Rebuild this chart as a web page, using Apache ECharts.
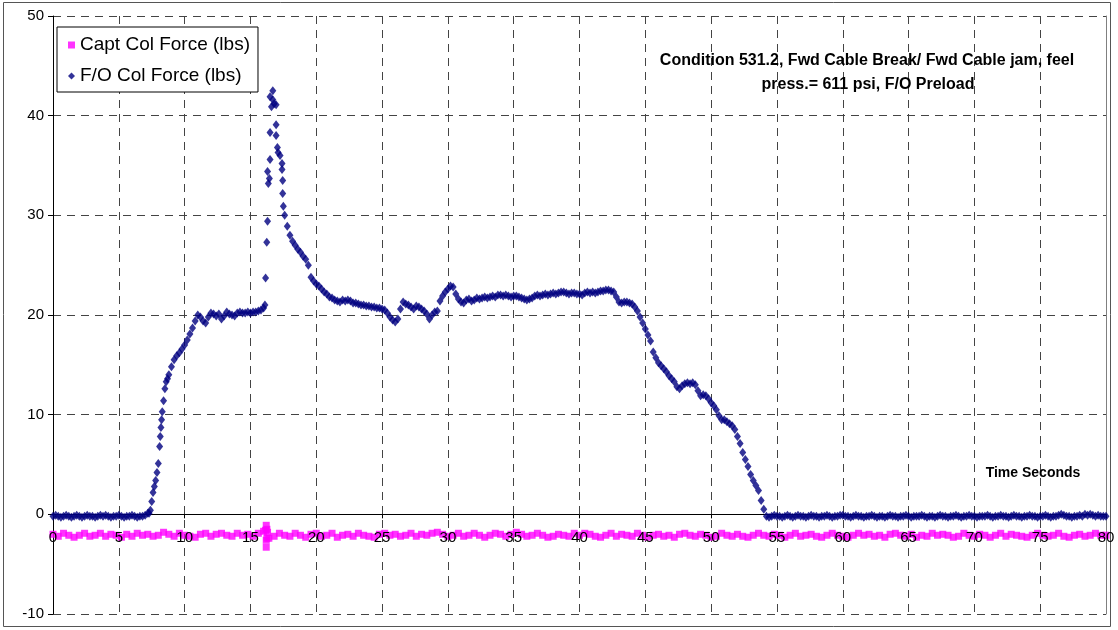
<!DOCTYPE html>
<html>
<head>
<meta charset="utf-8">
<script src="https://cdn.jsdelivr.net/npm/echarts@6/dist/echarts.min.js"></script>
<style>
html,body{margin:0;padding:0;background:#fff;}
#chart{width:1118px;height:630px;}
</style>
</head>
<body>
<div id="chart"></div>
<script>
// ---- Data ----
const seriesNames = ['Capt Col Force (lbs)', 'F/O Col Force (lbs)'];
const annotationLines = ['Condition 531.2, Fwd Cable Break/ Fwd Cable jam, feel', 'press.= 611 psi, F/O Preload'];
const xAxisTitle = 'Time Seconds';
const xMin = 0, xMax = 80, xStep = 5;
const yMin = -10, yMax = 50, yStep = 10;

// F/O column force, sampled every 0.2 s starting at 0 s (10 samples = 2 s per row)
const foStart = 0, foDt = 0.2;
const foValues = [
  -0.2,-0.1,-0.2,-0.3,-0.2,-0.1,-0.2,-0.3,-0.2,-0.1,    // 0
  -0.2,-0.3,-0.2,-0.1,-0.2,-0.2,-0.3,-0.2,-0.1,-0.2,    // 2
  -0.1,-0.2,-0.3,-0.2,-0.2,-0.1,-0.2,-0.3,-0.2,-0.2,    // 4
  -0.1,-0.2,-0.3,-0.2,-0.2,-0.1,0.1,0.4,2.2,3.4,        // 6
  5.1,8.7,11.4,13.3,14.0,14.8,15.5,15.9,16.2,16.6,      // 8
  17.0,17.5,18.1,18.7,19.4,20.0,19.8,19.4,19.2,19.8,    // 10
  20.2,20.1,19.9,20.1,19.6,19.9,20.3,20.1,20.0,19.9,    // 12
  20.2,20.3,20.2,20.2,20.3,20.2,20.3,20.3,20.4,20.5,    // 14
  20.7,null,null,null,null,null,null,null,30.0,28.9,    // 16
  28.0,27.4,27.0,26.6,26.3,25.9,25.6,25.0,23.8,23.4,    // 18
  23.1,22.9,22.6,22.3,22.1,21.8,21.7,21.5,21.4,21.3,    // 20
  21.5,21.4,21.5,21.4,21.2,21.2,21.1,21.0,21.0,20.9,    // 22
  20.9,20.8,20.8,20.7,20.7,20.6,20.5,20.2,19.8,19.5,    // 24
  19.3,19.6,20.6,21.3,21.1,21.0,20.8,20.6,20.9,20.8,    // 26
  20.6,20.4,20.1,19.6,20.0,20.3,20.4,21.4,21.9,22.3,    // 28
  22.6,22.9,22.8,22.1,21.6,21.3,21.2,21.5,21.6,21.4,    // 30
  21.5,21.7,21.6,21.7,21.8,21.7,21.8,21.9,21.8,22.0,    // 32
  22.0,21.9,22.0,21.9,21.8,21.9,21.9,21.8,21.7,21.6,    // 34
  21.5,21.6,21.7,21.9,22.0,21.9,22.0,22.1,22.0,22.1,    // 36
  22.2,22.1,22.2,22.3,22.3,22.2,22.1,22.2,22.2,22.1,    // 38
  22.1,22.0,22.2,22.3,22.2,22.3,22.2,22.3,22.4,22.4,    // 40
  22.5,22.5,22.4,22.3,21.8,21.3,21.2,21.3,21.3,21.2,    // 42
  21.1,20.8,20.4,19.8,19.2,18.6,18.0,17.4,16.3,15.7,    // 44
  15.2,14.9,14.6,14.3,13.9,13.6,13.3,12.8,12.6,12.9,    // 46
  13.1,13.2,13.1,13.2,13.0,12.4,11.9,12.0,11.9,11.6,    // 48
  11.2,10.9,10.5,9.9,9.5,9.5,9.3,9.1,8.9,8.5,           // 50
  7.8,7.1,6.2,5.5,4.8,4.0,3.4,2.9,2.4,1.4,              // 52
  0.5,-0.2,-0.3,-0.2,-0.1,-0.2,-0.2,-0.3,-0.2,-0.1,     // 54
  -0.2,-0.3,-0.2,-0.1,-0.2,-0.2,-0.3,-0.2,-0.1,-0.2,    // 56
  -0.2,-0.3,-0.2,-0.2,-0.1,-0.2,-0.3,-0.2,-0.2,-0.1,    // 58
  -0.1,-0.2,-0.2,-0.3,-0.2,-0.1,-0.2,-0.2,-0.3,-0.2,    // 60
  -0.2,-0.1,-0.2,-0.3,-0.2,-0.2,-0.3,-0.2,-0.1,-0.2,    // 62
  -0.2,-0.3,-0.2,-0.2,-0.1,-0.2,-0.3,-0.2,-0.2,-0.2,    // 64
  -0.1,-0.2,-0.3,-0.2,-0.2,-0.3,-0.2,-0.1,-0.2,-0.2,    // 66
  -0.3,-0.2,-0.2,-0.1,-0.2,-0.3,-0.2,-0.2,-0.1,-0.2,    // 68
  -0.2,-0.3,-0.2,-0.2,-0.2,-0.1,-0.2,-0.3,-0.2,-0.2,    // 70
  -0.1,-0.2,-0.2,-0.3,-0.2,-0.1,-0.2,-0.2,-0.3,-0.2,    // 72
  -0.2,-0.1,-0.2,-0.2,-0.3,-0.2,-0.2,-0.1,-0.2,-0.3,    // 74
  -0.2,-0.2,-0.1,0.0,-0.1,-0.2,-0.2,-0.3,-0.2,-0.2,     // 76
  -0.1,-0.2,0.0,-0.1,0.0,-0.1,-0.2,-0.1,-0.2,-0.2,      // 78
  -0.2                                                  // 80
];
// extra F/O samples on the steep rise [time, value]
const foRise = [[7.3,0.1],[7.5,1.3],[7.7,2.8],[7.9,4.2],[8.1,6.8],[8.15,7.8],[8.25,9.5],[8.3,10.3],[8.5,12.6],[8.7,13.6]];
// F/O samples around the peak [time, value]
const foPeak = [
  [16.1,21.0],[16.15,23.7],[16.24,27.3],[16.3,29.4],[16.3,34.4],[16.36,33.2],[16.44,33.7],
  [16.49,35.6],[16.49,38.3],[16.49,41.9],[16.6,40.9],[16.7,42.5],[16.7,41.6],[16.8,41.2],
  [16.95,41.1],[16.95,39.1],[16.95,38.0],[17.05,36.8],[17.1,36.3],[17.25,36.0],[17.4,35.2],
  [17.4,34.6],[17.45,33.5],[17.45,32.2],[17.5,30.9]
];

// Capt column force, sampled every 0.4 s starting at 0 s (10 samples = 4 s per row)
const captStart = 0, captDt = 0.4;
const captValues = [
  -2.0,-2.2,-1.9,-2.1,-2.3,-2.1,-1.9,-2.2,-2.1,-1.9,   // 0
  -2.2,-2.0,-2.1,-2.3,-2.0,-2.2,-1.9,-2.1,-2.0,-2.2,   // 4
  -2.1,-1.8,-2.0,-2.2,-1.9,-2.1,-2.2,-2.3,-2.0,-1.9,   // 8
  -2.2,-2.0,-1.9,-2.1,-2.2,-1.9,-2.1,-2.0,-2.2,-1.9,   // 12
  -1.7,-2.4,-2.2,-1.9,-2.1,-2.2,-1.9,-2.1,-2.3,-2.0,   // 16
  -1.9,-2.2,-2.1,-1.9,-2.3,-2.1,-2.0,-2.2,-1.9,-2.1,   // 20
  -2.2,-2.3,-2.0,-1.9,-2.1,-2.0,-2.2,-2.1,-1.9,-2.2,   // 24
  -2.0,-2.1,-1.9,-1.8,-2.0,-2.2,-2.1,-1.9,-2.2,-2.1,   // 28
  -1.9,-2.1,-2.3,-2.1,-1.9,-2.0,-2.2,-2.0,-1.8,-2.0,   // 32
  -2.2,-2.1,-1.9,-2.1,-2.3,-2.2,-2.0,-2.1,-2.2,-1.9,   // 36
  -2.1,-1.9,-2.0,-2.2,-2.3,-2.1,-1.9,-2.2,-2.0,-2.1,   // 40
  -2.2,-1.9,-2.1,-2.3,-2.1,-2.0,-2.2,-2.1,-2.3,-2.0,   // 44
  -1.9,-2.1,-2.2,-2.0,-2.1,-2.3,-2.2,-1.9,-2.1,-2.2,   // 48
  -2.0,-2.2,-2.3,-2.1,-1.9,-2.1,-2.2,-2.0,-2.1,-2.3,   // 52
  -2.1,-1.9,-2.2,-2.1,-2.0,-2.2,-2.3,-2.1,-1.9,-2.1,   // 56
  -2.2,-2.3,-2.1,-1.9,-2.1,-2.0,-2.2,-2.1,-2.3,-2.0,   // 60
  -1.9,-2.1,-2.2,-2.0,-2.3,-2.1,-2.2,-1.9,-2.1,-2.0,   // 64
  -2.1,-2.3,-2.2,-1.9,-2.1,-2.2,-2.0,-2.1,-2.3,-2.1,   // 68
  -1.9,-2.2,-2.0,-2.1,-2.2,-2.3,-2.1,-1.9,-2.1,-2.2,   // 72
  -2.1,-1.9,-2.2,-2.3,-2.1,-2.0,-2.2,-2.1,-1.9,-2.1,   // 76
  -2.1                                                 // 80
];
// extra Capt samples at the spike [time, value]
const captSpike = [[16.15,-1.6],[16.2,-1.1],[16.25,-1.5],[16.3,-1.8],[16.2,-2.6],[16.25,-2.4],[16.2,-3.3]];

// ---- Build series data ----
function sampled(values, start, dt) {
  const out = [];
  values.forEach((v, i) => {
    if (v !== null) out.push([+(start + i * dt).toFixed(3), v]);
  });
  return out;
}
const captData = sampled(captValues, captStart, captDt).concat(captSpike);
const foData = sampled(foValues, foStart, foDt).concat(foRise, foPeak);

const FONT = "'Liberation Sans', Arial, sans-serif";
const gridDash = { color: '#444', width: 1, type: [8, 6] };

const chart = echarts.init(document.getElementById('chart'), null, { renderer: 'canvas' });
chart.setOption({
  animation: false,
  backgroundColor: '#fff',
  textStyle: { fontFamily: FONT },
  grid: { left: 53, right: 12, top: 16, bottom: 16, containLabel: false, outerBoundsMode: 'none' },
  legend: {
    orient: 'vertical',
    left: 57, top: 27,
    padding: [7, 8, 5, 11],
    itemGap: 9,
    itemWidth: 7, itemHeight: 7,
    backgroundColor: '#fff',
    borderColor: '#000', borderWidth: 1, borderRadius: 0,
    textStyle: { fontFamily: FONT, fontSize: 19, color: '#000', lineHeight: 22 },
    data: [
      { name: seriesNames[0], icon: 'rect' },
      { name: seriesNames[1], icon: 'diamond' }
    ]
  },
  xAxis: [
    {
      // axis line on y = 0 with ticks, plus vertical gridlines (beneath the markers)
      type: 'value', min: xMin, max: xMax, interval: xStep, position: 'bottom', z: 0,
      axisLine: { show: true, onZero: true, lineStyle: { color: '#000', width: 1 } },
      axisTick: { show: true, length: 4, lineStyle: { color: '#000' } },
      axisLabel: { show: false },
      splitLine: { show: true, lineStyle: gridDash }
    },
    {
      // tick-label axis, labels just below the zero line, drawn above the markers
      type: 'value', min: xMin, max: xMax, interval: xStep, position: 'bottom', z: 6,
      axisLine: { show: false, onZero: false },
      axisTick: { show: false },
      axisLabel: { show: true, margin: -84, fontSize: 15, color: '#000', fontFamily: FONT,
        showMinLabel: true, showMaxLabel: true, hideOverlap: false },
      splitLine: { show: false }
    }
  ],
  yAxis: [
    {
      type: 'value', min: yMin, max: yMax, interval: yStep, position: 'left',
      axisLine: { show: true, onZero: false, lineStyle: { color: '#000', width: 1 } },
      axisTick: { show: true, length: 5, lineStyle: { color: '#000' } },
      axisLabel: { margin: 9, fontSize: 15, color: '#000', fontFamily: FONT },
      splitLine: { show: true, lineStyle: gridDash }
    },
    {
      type: 'value', min: yMin, max: yMax, interval: yStep, position: 'right',
      axisLine: { show: true, onZero: false, lineStyle: { color: '#808080', width: 1 } },
      axisTick: { show: false }, axisLabel: { show: false }, splitLine: { show: false }
    }
  ],
  series: [
    {
      name: seriesNames[0], type: 'scatter', xAxisIndex: 0, yAxisIndex: 0,
      symbol: 'rect', symbolSize: [7, 7],
      itemStyle: { color: '#FF00FF' },
      data: captData, z: 2
    },
    {
      name: seriesNames[1], type: 'scatter', xAxisIndex: 0, yAxisIndex: 0,
      symbol: 'diamond', symbolSize: [7, 9],
      itemStyle: { color: '#000080' },
      data: foData, z: 3
    }
  ],
  graphic: [
    {
      type: 'rect', silent: true, z: -1,
      shape: { x: 3.5, y: 2.5, width: 1107, height: 624 },
      style: { fill: 'none', stroke: '#555', lineWidth: 1 }
    },
    {
      type: 'text', x: 867, y: 61, z: 10,
      style: { text: annotationLines[0], font: "bold 16px 'Liberation Sans', Arial, sans-serif",
        fill: '#000', textAlign: 'center', textVerticalAlign: 'middle' }
    },
    {
      type: 'text', x: 868, y: 85, z: 10,
      style: { text: annotationLines[1], font: "bold 16px 'Liberation Sans', Arial, sans-serif",
        fill: '#000', textAlign: 'center', textVerticalAlign: 'middle' }
    },
    {
      type: 'text', x: 1033, y: 473, z: 10,
      style: { text: xAxisTitle, font: "bold 14px 'Liberation Sans', Arial, sans-serif",
        fill: '#000', textAlign: 'center', textVerticalAlign: 'middle' }
    }
  ]
});
</script>
</body>
</html>
